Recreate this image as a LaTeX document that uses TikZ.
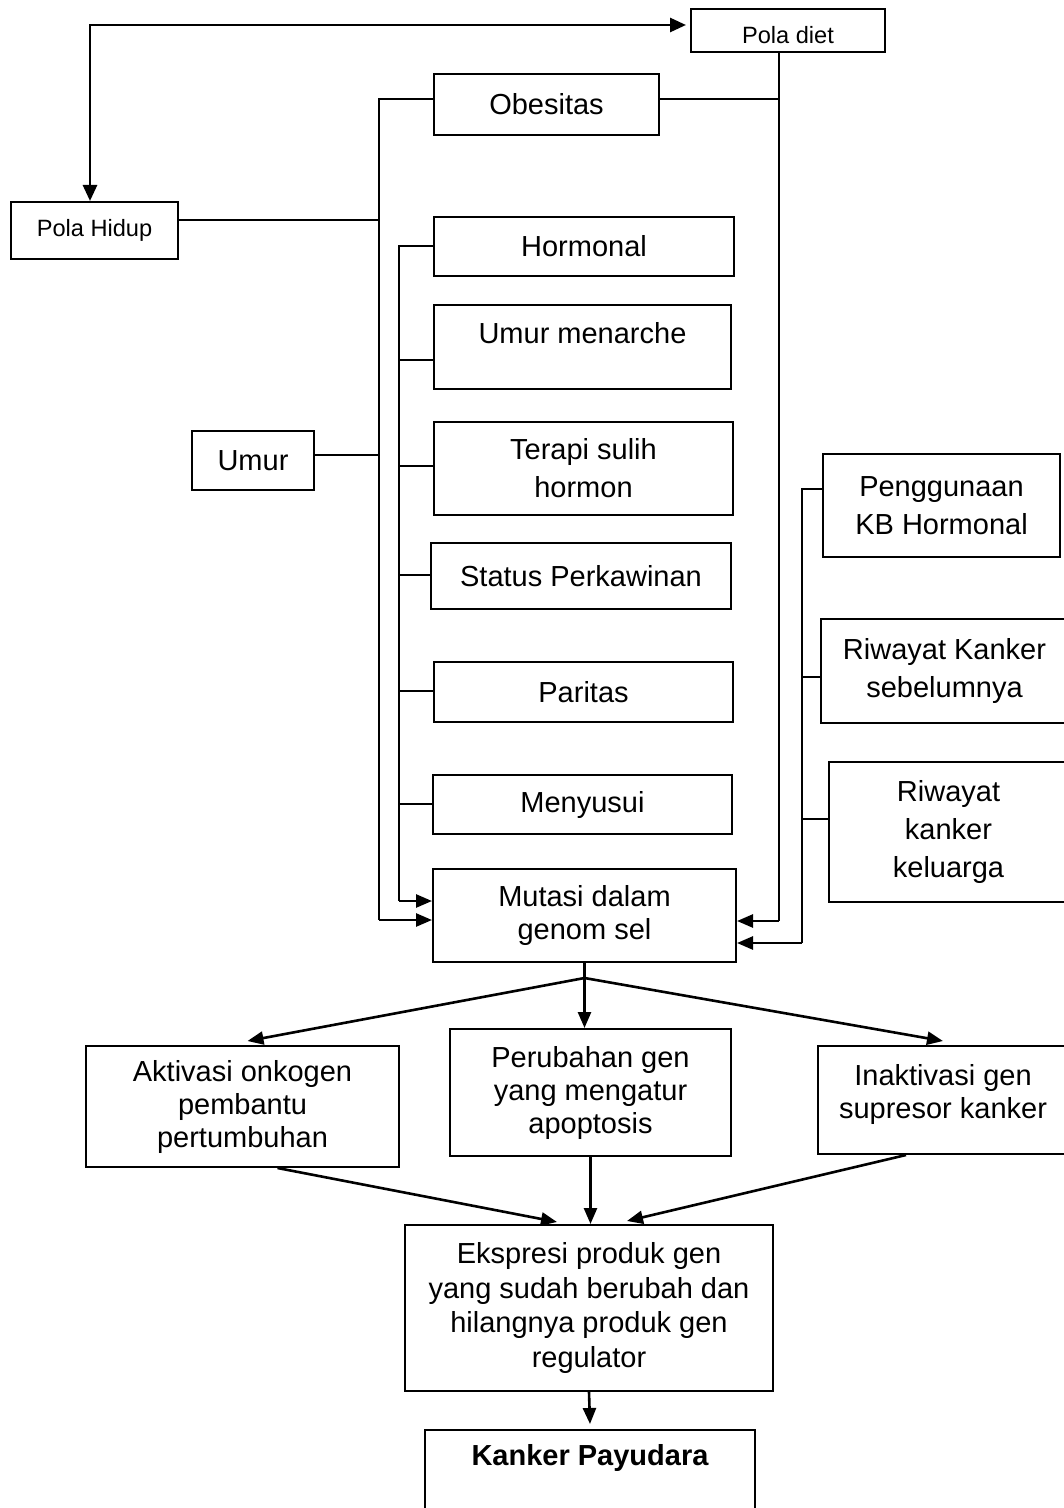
\documentclass[tikz,border=0pt]{standalone}
\usepackage{fontspec}
\setmainfont{Liberation Sans}
\usetikzlibrary{arrows.meta,calc}
\newcommand\fsmain{\fontsize{14.5}{16.5}\selectfont}
\newcommand\fsloose{\fontsize{14.5}{19}\selectfont}
\newcommand\fsmid{\fontsize{14.5}{17.2}\selectfont}
\newcommand\fssmall{\fontsize{11.8}{14}\selectfont}
% \mybox[opts]{name}{x1}{y1}{x2}{y2}{text}  (pixel coordinates)
\newcommand\mybox[7][]{\node[box,minimum width={(#5-#3)*0.5pt},minimum height={(#6-#4)*0.5pt},#1] (#2) at ({(#3+#5)/2},{(#4+#6)/2}) {#7};}
\begin{document}
\begin{tikzpicture}[x=0.5pt,y=-0.5pt,font=\fsmain,
  box/.style={draw,line width=1pt,inner sep=0pt,align=center},
  lbl/.style={draw=none,align=center,inner sep=0pt},
  ln/.style={line width=1pt},
  arr/.style={line width=1.3pt,-{Triangle[length=8pt,width=6.5pt]}},
  bigarr/.style={line width=1.4pt,{Triangle[length=8pt,width=7pt]}-{Triangle[length=8pt,width=7pt]}}]
\useasboundingbox (0,0) rectangle (1064,1508);

% boxes
\mybox[label={[lbl,font=\fssmall,yshift=-2.2pt]center:Pola diet}]{pd}{691}{9}{885}{52}{}
\mybox[font=\fssmall]{ph}{11}{202}{178}{259}{Pola Hidup}
\mybox{obes}{434}{74}{659}{135}{Obesitas}
\mybox{horm}{434}{217}{734}{276}{Hormonal}
\mybox[label={[lbl,yshift=7pt]center:Umur menarche}]{um}{434}{305}{731}{389}{}
\mybox[font=\fsloose]{ter}{434}{422}{733}{515}{Terapi sulih\\hormon}
\mybox{stat}{431}{543}{731}{609}{Status Perkawinan}
\mybox{par}{434}{662}{733}{722}{Paritas}
\mybox{meny}{433}{775}{732}{834}{Menyusui}
\mybox{umur}{192}{431}{314}{490}{Umur}
\mybox{mut}{433}{869}{736}{962}{Mutasi dalam\\genom sel}
\mybox[font=\fsloose]{pkb}{823}{454}{1060}{557}{Penggunaan\\KB Hormonal}
\mybox[font=\fsloose]{rk}{821}{619}{1068}{723}{Riwayat Kanker\\sebelumnya}
\mybox[font=\fsloose]{rkk}{829}{762}{1068}{902}{Riwayat\\kanker\\keluarga}
\mybox{akt}{86}{1046}{399}{1167}{Aktivasi onkogen\\pembantu\\pertumbuhan}
\mybox{pgen}{450}{1029}{731}{1156}{Perubahan gen\\yang mengatur\\apoptosis}
\mybox[label={[lbl,yshift=3pt]center:Inaktivasi gen\\supresor kanker}]{inak}{818}{1046}{1068}{1154}{}
\mybox[font=\fsmid]{eks}{405}{1225}{773}{1391}{Ekspresi produk gen\\yang sudah berubah dan\\hilangnya produk gen\\regulator}
\mybox[label={[lbl,font=\fsmain\bfseries,yshift=9.8pt]center:Kanker Payudara}]{kp}{425}{1430}{755}{1525}{}

% top double arrow
\draw[bigarr] ($(ph.north)+(-4.5,0)$) |- ($(pd.west)+(-4,-5.5)$);

% outer left bus
\draw[ln] (obes.west |- 0,99) -- (379,99) -- (379,920);
\draw[ln] (ph.east |- 0,220) -- (379,220);
\draw[ln] (umur.east |- 0,455) -- (379,455);
\draw[arr] (379,920) -- (mut.west |- 0,920);

% inner left bus
\draw[ln] (horm.west) -- (399,246.5) -- (399,901);
\draw[ln] (399,360) -- (um.west |- 0,360);
\draw[ln] (399,466) -- (ter.west |- 0,466);
\draw[ln] (399,575) -- (stat.west |- 0,575);
\draw[ln] (399,691) -- (par.west |- 0,691);
\draw[ln] (399,804) -- (meny.west |- 0,804);
\draw[arr] (399,901) -- (mut.west |- 0,901);

% right bus from Pola diet
\draw[ln] (pd.south -| 779,0) -- (779,921);
\draw[ln] (obes.east |- 0,99) -- (779,99);
\draw[arr] (779,921) -- (mut.east |- 0,921);

% second right bus
\draw[ln] (pkb.west |- 0,489) -- (802,489) -- (802,943);
\draw[ln] (802,677) -- (rk.west |- 0,677);
\draw[ln] (802,819) -- (rkk.west |- 0,819);
\draw[arr] (802,943) -- (mut.east |- 0,943);

% lower part
\coordinate (sp) at ($(mut.south)+(0,15)$);
\draw[arr] (mut.south) -- (mut.south |- pgen.north);
\draw[arr] (sp) -- ($(akt.north)+(5,-4)$);
\draw[arr] (sp) -- ($(inak.north)+(0,-4)$);
\draw[arr] ($(akt.south)+(35,0)$) -- ($(eks.north)+(-32,-2)$);
\draw[arr] (pgen.south) -- (pgen.south |- eks.north);
\draw[arr] ($(inak.south)+(-37,0)$) -- ($(eks.north)+(38,-3)$);
\draw[arr] (eks.south) -- ($(kp.north)+(0,-5)$);
\end{tikzpicture}
\end{document}
